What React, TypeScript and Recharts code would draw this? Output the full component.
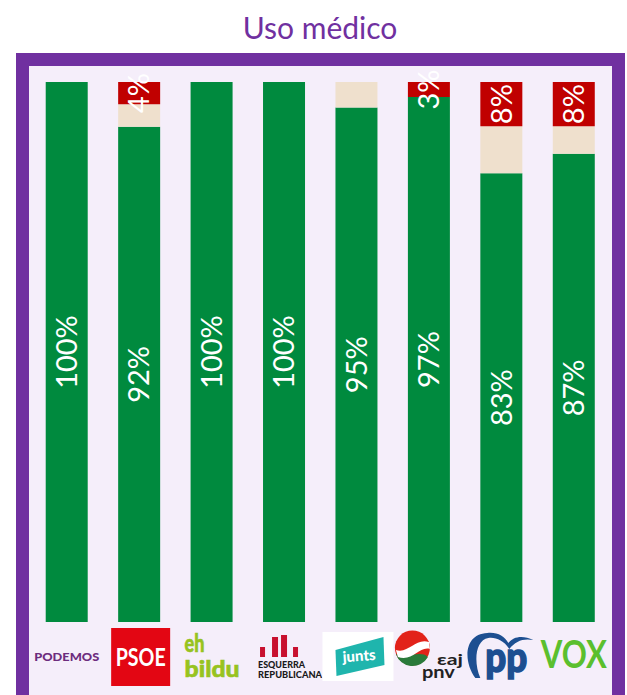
import { Bar, BarChart, LabelList, XAxis, YAxis } from "recharts";

const PARTIES = ["Podemos", "PSOE", "EH Bildu", "ERC", "Junts", "PNV", "PP", "Vox"];
const GREEN_VALUES = [100, 91.7, 100, 100, 95.3, 97.2, 83.1, 86.7];
const CREAM_VALUES = [0, 4.2, 0, 0, 4.7, 0, 8.7, 5.1];
const RED_VALUES = [0, 4.1, 0, 0, 0, 2.8, 8.2, 8.2];

const chartData = PARTIES.map((party, i) => ({
  party,
  green: GREEN_VALUES[i],
  cream: CREAM_VALUES[i],
  red: RED_VALUES[i],
}));

const FONT = "Lato, 'Open Sans', sans-serif";
const PURPLE = "#7030a0";

const percent = (value: any) => (value ? `${Math.round(value)}%` : "");

// party logos are redrawn by hand, coordinates are relative to band centre / axis line
function Logo({ party }: { party: string }) {
  switch (party) {
    case "Podemos":
      return (
        <text x={0} y={39} textAnchor="middle" fontFamily={FONT} fontWeight={900} fontSize={12} fill="#6d2c7e" textLength={65} lengthAdjust="spacingAndGlyphs">
          PODEMOS
        </text>
      );
    case "PSOE":
      return (
        <g>
          <rect x={-28} y={6} width={59} height={58} fill="#e30613" />
          <text x={1.5} y={44} textAnchor="middle" fontFamily="'Liberation Sans Narrow', Lato, sans-serif" fontWeight={700} fontSize={25} fill="#fff" textLength={50} lengthAdjust="spacingAndGlyphs">
            PSOE
          </text>
        </g>
      );
    case "EH Bildu":
      return (
        <g fontFamily={FONT} fontWeight={900} fill="#97c31f" stroke="#97c31f" strokeWidth={0.6}>
          <text x={-27} y={30} fontSize={24} textLength={20} lengthAdjust="spacingAndGlyphs">eh</text>
          <text x={-27} y={55} fontSize={23} textLength={55} lengthAdjust="spacingAndGlyphs">bildu</text>
        </g>
      );
    case "ERC":
      return (
        <g>
          <g fill="#c8102e">
            <rect x={-24} y={25} width={5} height={10} />
            <rect x={-12} y={15} width={6} height={20} />
            <rect x={-3} y={13} width={6} height={22} />
            <rect x={9} y={25} width={5} height={10} />
          </g>
          <g fontFamily={FONT} fontWeight={900} fontSize={9} fill="#1a1a1a">
            <text x={-26} y={46} textLength={47} lengthAdjust="spacingAndGlyphs">ESQUERRA</text>
            <text x={-26} y={56} textLength={64} lengthAdjust="spacingAndGlyphs">REPUBLICANA</text>
          </g>
        </g>
      );
    case "Junts":
      return (
        <g>
          <rect x={-34} y={10} width={71} height={49} fill="#fff" />
          <polygon points="-21,28 27,15 28,43 -20,54" fill="#1fb5ad" />
          <text x={3} y={39} textAnchor="middle" fontFamily={FONT} fontWeight={900} fontSize={15} fill="#fff" transform="rotate(-4 3 39)">
            junts
          </text>
        </g>
      );
    case "PNV":
      return (
        <g>
          <circle cx={-16.5} cy={26} r={17.5} fill="#e2231a" />
          <path d="M -33 32 A 17.5 17.5 0 0 0 -1 35 C -8 28 -20 36 -33 32 Z" fill="#2a7a3a" />
          <path d="M -33 28 C -20 32 -14 16 0 20 L 1 27 C -10 24 -16 40 -31 35 Z" fill="#fff" />
          <g fontFamily={FONT} fontWeight={700} fill="#222">
            <text x={34} y={43} textAnchor="end" fontSize={16} textLength={26} lengthAdjust="spacingAndGlyphs">εaj</text>
            <text x={-7} y={56} fontSize={17} textLength={33} lengthAdjust="spacingAndGlyphs">pnv</text>
          </g>
        </g>
      );
    case "PP":
      return (
        <g fill="#1d4f91">
          <path d="M -26 56 C -38 40 -38 12 -14 11 C -4 10 3 14 7 21 C 12 14 22 13 32 18 C 22 16 14 19 8 27 C 2 18 -6 15 -13 16 C -26 18 -28 40 -21 56 Z" />
          <text x={5} y={50} textAnchor="middle" fontFamily={FONT} fontWeight={900} fontSize={42} stroke="#1d4f91" strokeWidth={1.5} textLength={42} lengthAdjust="spacingAndGlyphs">
            pp
          </text>
        </g>
      );
    default:
      return (
        <text x={0} y={46} textAnchor="middle" fontFamily={FONT} fontWeight={700} fontSize={38} fill="#5bbf2e" textLength={66} lengthAdjust="spacingAndGlyphs">
          VOX
        </text>
      );
  }
}

function LogoTick({ x, y, payload }: any) {
  return (
    <g transform={`translate(${x},${y})`}>
      <Logo party={payload.value} />
    </g>
  );
}

export default function App() {
  return (
    <div style={{ position: "absolute", left: 0, top: 0, width: 627, height: 695, background: "#fff", overflow: "hidden" }}>
      <div style={{ position: "absolute", left: 0, top: 9, width: 640, textAlign: "center", fontFamily: FONT, fontWeight: 400, fontSize: 30, lineHeight: "36px", color: PURPLE }}>
        Uso médico
      </div>
      <div style={{ position: "absolute", left: 16, top: 53, width: 609, height: 655, boxSizing: "border-box", border: `13px solid ${PURPLE}`, background: "#f5eefa" }} />
      <div style={{ position: "absolute", left: 0, top: 0 }}>
        <BarChart
          width={627}
          height={695}
          data={chartData}
          margin={{ top: 82, right: 17, bottom: 0, left: 30.5 }}
          barCategoryGap="21%"
        >
          <XAxis dataKey="party" height={73} interval={0} axisLine={false} tickLine={false} tickSize={0} tickMargin={0} tick={<LogoTick />} />
          <YAxis hide domain={[0, 100]} />
          <Bar dataKey="green" stackId="a" fill="#008a3e" isAnimationActive={false}>
            <LabelList dataKey="green" position="center" angle={-90} fill="#fff" fontSize={29} fontFamily={FONT} formatter={percent} />
          </Bar>
          <Bar dataKey="cream" stackId="a" fill="#efe0cd" isAnimationActive={false} />
          <Bar dataKey="red" stackId="a" fill="#c00000" isAnimationActive={false}>
            <LabelList dataKey="red" position="center" angle={-90} fill="#fff" fontSize={29} fontFamily={FONT} formatter={percent} />
          </Bar>
        </BarChart>
      </div>
    </div>
  );
}
